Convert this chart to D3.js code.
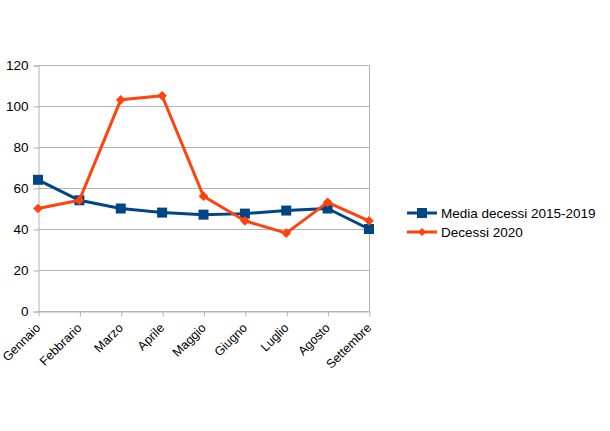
<!DOCTYPE html>
<html>
<head>
<meta charset="utf-8">
<script src="https://cdn.jsdelivr.net/npm/d3@7"></script>
<style>
  body { margin: 0; background: #fff; }
  text { font-family: "Liberation Sans", Arial, sans-serif; fill: #000; }
</style>
</head>
<body>
<div id="chart"></div>
<script>
// data
var months = ["Gennaio", "Febbrario", "Marzo", "Aprile", "Maggio", "Giugno", "Luglio", "Agosto", "Settembre"];
var media = [64, 54, 50, 48, 47, 47.5, 49, 50, 40];
var decessi2020 = [50, 54, 103, 105, 56, 44, 38, 53, 44];
var yTicks = [0, 20, 40, 60, 80, 100, 120];
var seriesNames = ["Media decessi 2015-2019", "Decessi 2020"];

var chartW = 610, chartH = 431;
var plotLeft = 38, plotRight = 369, plotTop = 65, plotBottom = 311;

var svg = d3.select("#chart").append("svg")
  .attr("width", chartW)
  .attr("height", chartH);

var xScale = d3.scalePoint().domain(months).range([plotLeft, plotRight]);
var yScale = d3.scaleLinear().domain([0, 120]).range([plotBottom, plotTop]);

// gridlines
svg.selectAll(".grid")
  .data(yTicks)
  .enter()
  .append("line")
  .attr("x1", plotLeft)
  .attr("x2", plotRight)
  .attr("y1", function(d) { return yScale(d) + 0.5; })
  .attr("y2", function(d) { return yScale(d) + 0.5; })
  .attr("stroke", "#b3b3b3")
  .attr("stroke-width", 1);

// right border
svg.append("line")
  .attr("x1", plotRight + 0.5).attr("x2", plotRight + 0.5)
  .attr("y1", plotTop).attr("y2", plotBottom)
  .attr("stroke", "#b3b3b3");

// y axis
var yAxis = d3.axisLeft(yScale).tickValues(yTicks).tickSize(5).tickPadding(5);
var gy = svg.append("g")
  .attr("transform", "translate(" + (plotLeft + 0.5) + ",0.5)")
  .call(yAxis);
gy.select(".domain").attr("stroke", "#b3b3b3");
gy.selectAll(".tick line").attr("stroke", "#b3b3b3");
gy.selectAll("text").style("font-size", "13.5px").attr("fill", "#000");

// x axis
var xAxis = d3.axisBottom(xScale).tickSize(5).tickSizeOuter(0);
var gx = svg.append("g")
  .attr("transform", "translate(0.5," + (plotBottom + 0.5) + ")")
  .call(xAxis);
gx.select(".domain").attr("stroke", "#b3b3b3");
gx.selectAll(".tick line").attr("stroke", "#b3b3b3");
gx.selectAll("text")
  .style("font-size", "12.5px")
  .attr("fill", "#000")
  .style("text-anchor", "end")
  .attr("x", 0)
  .attr("y", 0)
  .attr("dy", "0.35em")
  .attr("transform", "translate(-1,14) rotate(-45)");

var line = d3.line()
  .x(function(d, i) { return xScale(months[i]); })
  .y(function(d) { return yScale(d); });

// media series
svg.append("path")
  .datum(media)
  .attr("d", line)
  .attr("fill", "none")
  .attr("stroke", "#004586")
  .attr("stroke-width", 3)
  .attr("stroke-linejoin", "round");

svg.selectAll(".sq")
  .data(media)
  .enter()
  .append("rect")
  .attr("x", function(d, i) { return xScale(months[i]) - 5; })
  .attr("y", function(d) { return yScale(d) - 5; })
  .attr("width", 10)
  .attr("height", 10)
  .attr("fill", "#004586");

// 2020 series
svg.append("path")
  .datum(decessi2020)
  .attr("d", line)
  .attr("fill", "none")
  .attr("stroke", "#ff420e")
  .attr("stroke-width", 3)
  .attr("stroke-linejoin", "round");

var diamond = d3.symbol().type(d3.symbolDiamond2).size(60);
svg.selectAll(".dm")
  .data(decessi2020)
  .enter()
  .append("path")
  .attr("d", diamond)
  .attr("transform", function(d, i) {
    return "translate(" + xScale(months[i]) + "," + yScale(d) + ")";
  })
  .attr("fill", "#ff420e");

// legend
var legend = svg.append("g").attr("transform", "translate(407,213)");
var colors = ["#004586", "#ff420e"];
seriesNames.forEach(function(name, i) {
  var row = legend.append("g").attr("transform", "translate(0," + i * 19 + ")");
  row.append("line")
    .attr("x1", 0).attr("x2", 30)
    .attr("stroke", colors[i])
    .attr("stroke-width", 3);
  if (i === 0) {
    row.append("rect")
      .attr("x", 10).attr("y", -5)
      .attr("width", 10).attr("height", 10)
      .attr("fill", colors[i]);
  } else {
    row.append("path")
      .attr("d", d3.symbol().type(d3.symbolDiamond2).size(40))
      .attr("transform", "translate(15,0)")
      .attr("fill", colors[i]);
  }
  row.append("text")
    .attr("x", 34)
    .attr("y", 0)
    .attr("dy", "0.35em")
    .style("font-size", "13.5px")
    .text(name);
});
</script>
</body>
</html>
